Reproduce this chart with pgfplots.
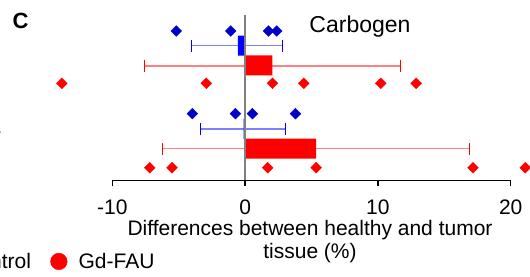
\documentclass[border=0pt]{standalone}
\usepackage{fontspec}
\setmainfont{Liberation Sans}
\setsansfont{Liberation Sans}
\usepackage{pgfplots}
\pgfplotsset{compat=1.18}
\definecolor{dblue}{HTML}{0000C8}
\definecolor{lblue}{HTML}{8080FF}
\definecolor{lred}{HTML}{FF8080}
\begin{document}
\begin{tikzpicture}[x=1pt,y=1pt]
\begin{axis}[
  at={(112.3pt,95.7pt)}, anchor=south west,
  scale only axis, width=398.4pt, height=165.3pt,
  xmin=-10, xmax=20, ymin=0, ymax=165.3,
  clip=false,
  axis x line*=bottom, axis y line=none,
  axis line style={black, line width=1.3pt},
  xtick={-10,0,10,20},
  tick align=outside, major tick length=6pt,
  tick style={black, line width=1.3pt},
  xticklabel style={font=\fontsize{21}{25}\selectfont, yshift=-10pt},
  /pgf/number format/assume math mode=true,
  legend columns=2,
  legend style={draw=none, fill=none, font=\fontsize{21}{25}\selectfont,
    at={(axis description cs:0.119,-0.491)}, anchor=east,
    /tikz/every even column/.style={column sep=17.3pt}},
  legend image code/.code={\draw[#1] plot coordinates {(0pt,0pt)}; \path (-8.3pt,0pt) (17.6pt,0pt);},
]
% legend entries
\addlegendimage{only marks, mark=*, mark size=8.3pt, color=blue}
\addlegendentry{Control}
\addlegendimage{only marks, mark=*, mark size=8.3pt, color=red}
\addlegendentry{Gd-FAU}
% error bars (mean - SD to mean + SD)
\addplot[forget plot, color=lblue, line width=1.2pt, mark=none]
  coordinates {(-4.02,134.6) (2.84,134.6)};
\addplot[forget plot, color=lblue, line width=1.2pt, mark=none]
  coordinates {(-3.34,51.3) (3.07,51.3)};
\addplot[forget plot, color=lred, line width=1.2pt, mark=none]
  coordinates {(-7.59,114.3) (11.73,114.3)};
\addplot[forget plot, color=lred, line width=1.2pt, mark=none]
  coordinates {(-6.23,31.6) (16.9,31.6)};
\addplot[forget plot, only marks, mark=|, mark size=6pt, color=blue,
  mark options={line width=1.2pt}]
  coordinates {(-4.02,134.6) (2.84,134.6) (-3.34,51.3) (3.07,51.3)};
\addplot[forget plot, only marks, mark=|, mark size=6pt, color=red,
  mark options={line width=1.2pt}]
  coordinates {(-7.59,114.3) (11.73,114.3) (-6.23,31.6) (16.9,31.6)};
% bars (means)
\addplot[forget plot, xbar, bar shift=0pt, bar width=20, fill=blue, draw=none]
  coordinates {(-0.55,134.6) (-0.12,51.3)};
\addplot[forget plot, xbar, bar shift=0pt, bar width=20, fill=red, draw=none]
  coordinates {(2.05,115.0) (5.35,31.6)};
% zero line
\addplot[forget plot, color=gray, line width=2pt, mark=none]
  coordinates {(0,0) (0,165.3)};
% individual points
\addplot[forget plot, only marks, mark=square*, mark size=3.8pt,
  mark options={rotate=45}, color=dblue]
  coordinates {(-5.18,149.3) (-1.08,149.3) (1.76,149.3) (2.39,149.3)
               (-3.97,66.6) (-0.73,66.6) (0.55,66.6) (3.79,66.6)};
\addplot[forget plot, only marks, mark=square*, mark size=3.8pt,
  mark options={rotate=45}, color=red]
  coordinates {(-13.8,97) (-2.92,97) (2.06,97) (4.42,97) (10.22,97) (12.88,97)
               (-7.18,12.6) (-5.5,12.6) (1.7,12.6) (5.35,12.6) (17.16,12.6) (21.1,12.6)};
\end{axis}
% texts (picture coordinates: origin bottom-left, 1pt = 1px)
\node[anchor=base west, inner sep=0pt, font=\fontsize{22}{26}\selectfont\bfseries] at (12.5,247) {C};
\node[anchor=base, inner sep=0pt, font=\fontsize{23}{27}\selectfont] at (360,243.3) {Carbogen};
\node[anchor=base, inner sep=0pt, font=\fontsize{21}{25}\selectfont] at (310,41) {Differences between healthy and tumor};
\node[anchor=base, inner sep=0pt, font=\fontsize{21}{25}\selectfont] at (310,18) {tissue (\%)};
\node[anchor=base east, inner sep=0pt, font=\fontsize{21}{25}\selectfont] at (1.5,142) {E};
\pgfresetboundingbox
\path[use as bounding box] (0,0) rectangle (530,276);
\end{tikzpicture}
\end{document}
